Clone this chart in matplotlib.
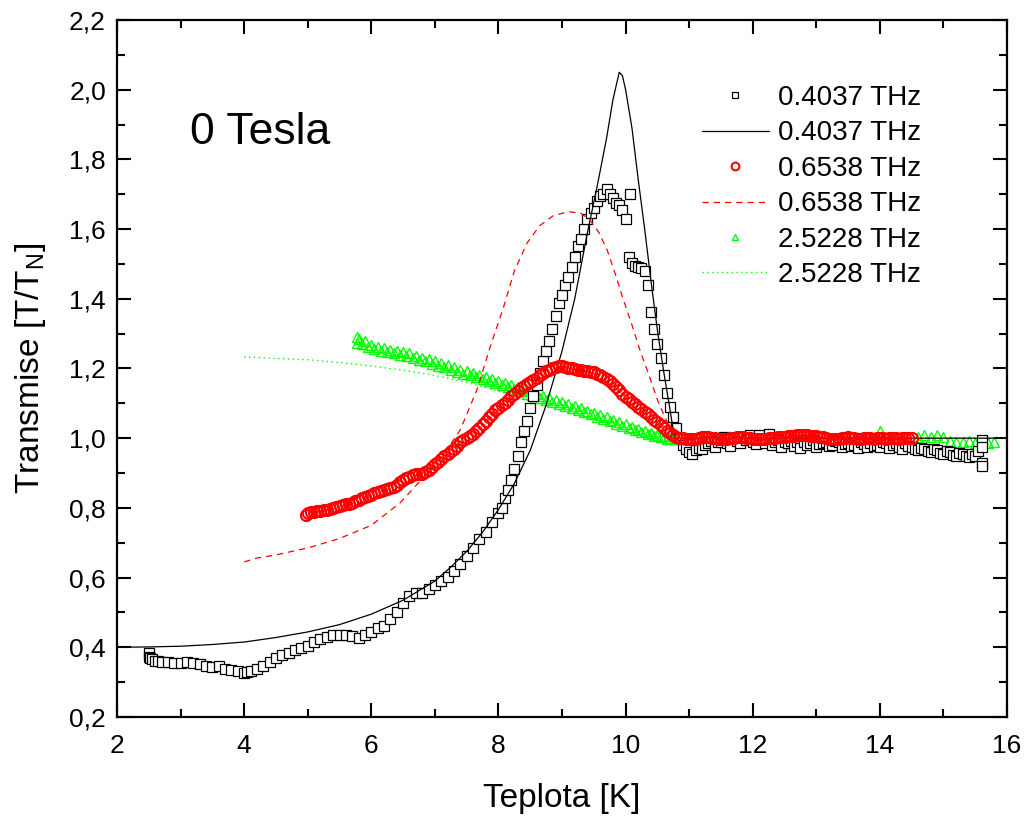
import matplotlib
matplotlib.use("Agg")
import matplotlib.pyplot as plt
from matplotlib.ticker import MultipleLocator, FuncFormatter

plt.rcParams['font.family'] = ['Liberation Sans', 'DejaVu Sans']

# 0.4037 THz - measured (squares)
blk_T = [2.50, 2.50, 2.52, 2.55, 2.60, 2.65, 2.70, 2.80, 2.90, 3.00, 3.10, 3.20, 3.30, 3.40,
         3.50, 3.60, 3.70, 3.80, 3.90, 4.00, 4.05, 4.10, 4.20, 4.30, 4.40, 4.50, 4.60, 4.70,
         4.80, 4.90, 5.00, 5.10, 5.20, 5.30, 5.40, 5.50, 5.60, 5.70, 5.80, 5.90, 6.00, 6.10,
         6.20, 6.30, 6.40, 6.50, 6.60, 6.70, 6.80, 6.90, 7.00, 7.10, 7.20, 7.30, 7.40, 7.50,
         7.60, 7.70, 7.80, 7.90, 8.00, 8.05, 8.10, 8.15, 8.20, 8.25, 8.30, 8.35, 8.40, 8.45,
         8.50, 8.55, 8.60, 8.65, 8.70, 8.75, 8.80, 8.85, 8.90, 8.95, 9.00, 9.05, 9.10, 9.15,
         9.20, 9.25, 9.30, 9.35, 9.40, 9.45, 9.50, 9.55, 9.60, 9.65, 9.70, 9.75, 9.80, 9.85,
         9.90, 9.95, 10.00, 10.07, 10.05, 10.10, 10.15, 10.20, 10.25, 10.30, 10.35, 10.40,
         10.45, 10.50, 10.55, 10.60, 10.65, 10.70, 10.75, 10.80, 10.85, 10.90, 10.95, 11.00,
         11.05, 11.10, 11.15, 11.20, 11.25, 11.30, 11.35, 11.40, 11.45, 11.50, 11.55, 11.60,
         11.65, 11.70, 11.75, 11.80, 11.85, 11.90, 11.95, 12.00, 12.05, 12.10, 12.15, 12.20,
         12.25, 12.30, 12.35, 12.40, 12.45, 12.50, 12.55, 12.60, 12.65, 12.70, 12.75, 12.80,
         12.85, 12.90, 12.95, 13.00, 13.05, 13.10, 13.15, 13.20, 13.25, 13.30, 13.35, 13.40,
         13.45, 13.50, 13.55, 13.60, 13.65, 13.70, 13.75, 13.80, 13.85, 13.90, 13.95, 14.00,
         14.05, 14.10, 14.15, 14.20, 14.25, 14.30, 14.35, 14.40, 14.45, 14.50, 14.55, 14.60,
         14.65, 14.70, 14.75, 14.80, 14.85, 14.90, 14.95, 15.00, 15.05, 15.10, 15.15, 15.20,
         15.25, 15.30, 15.35, 15.40, 15.45, 15.50, 15.55, 15.60, 15.60, 15.60, 15.60]
blk_R = [0.385, 0.372, 0.368, 0.365, 0.362, 0.360, 0.358, 0.357, 0.355, 0.356, 0.357, 0.355,
         0.352, 0.346, 0.343, 0.345, 0.339, 0.336, 0.332, 0.325, 0.330, 0.331, 0.338, 0.346,
         0.358, 0.368, 0.377, 0.385, 0.391, 0.399, 0.405, 0.414, 0.424, 0.430, 0.434, 0.436,
         0.434, 0.431, 0.428, 0.434, 0.445, 0.454, 0.461, 0.480, 0.502, 0.526, 0.548, 0.555,
         0.556, 0.566, 0.580, 0.590, 0.601, 0.620, 0.640, 0.661, 0.686, 0.710, 0.732, 0.760,
         0.785, 0.800, 0.828, 0.850, 0.880, 0.912, 0.950, 0.988, 1.020, 1.050, 1.088, 1.120,
         1.152, 1.188, 1.220, 1.250, 1.280, 1.312, 1.350, 1.388, 1.410, 1.440, 1.462, 1.490,
         1.520, 1.550, 1.572, 1.600, 1.630, 1.645, 1.660, 1.680, 1.695, 1.700, 1.715, 1.702,
         1.690, 1.676, 1.668, 1.654, 1.628, 1.702, 1.520, 1.502, 1.495, 1.490, 1.488, 1.480,
         1.440, 1.362, 1.312, 1.270, 1.230, 1.180, 1.130, 1.090, 1.060, 1.030, 1.000, 0.980,
         0.968, 0.960, 0.955, 0.965, 0.972, 0.970, 0.980, 0.985, 0.992, 0.975, 0.988, 0.990,
         1.002, 0.985,
         0.978, 1.000, 0.992, 0.985, 1.004, 0.995, 1.008, 0.990, 0.982, 1.010, 0.998, 0.985,
         1.012, 0.980, 0.990, 0.996, 0.975, 0.988, 0.985, 0.992, 0.978, 0.990, 0.972, 0.990,
         0.980, 0.985, 0.994, 0.975, 0.982, 0.985, 0.990, 0.978, 0.980, 0.992, 0.988, 0.975,
         0.984, 0.985, 0.978, 0.980, 0.972, 0.988, 0.982, 0.975, 0.985, 0.978, 0.980, 0.975,
         0.988, 0.985, 0.972, 0.980, 0.985, 0.975, 0.970, 0.985, 0.978, 0.975, 0.968, 0.965,
         0.972, 0.970, 0.962, 0.960, 0.968, 0.965, 0.958, 0.955, 0.962, 0.960, 0.952, 0.950,
         0.958, 0.955, 0.948, 0.945, 0.955, 0.950, 0.962, 0.930, 0.995, 0.975, 0.920]

# 0.4037 THz - fit (solid)
blk_fit_T = [2.0, 2.5, 3.0, 3.5, 4.0, 4.5, 5.0, 5.5, 6.0, 6.5, 7.0, 7.25, 7.5, 7.75, 8.0,
             8.25, 8.5, 8.75, 9.0, 9.2, 9.4, 9.55, 9.7, 9.8, 9.9, 9.95, 10.0, 10.1, 10.2,
             10.3, 10.4, 10.5, 10.6, 10.7, 10.77, 16.0]
blk_fit_R = [0.400, 0.401, 0.403, 0.408, 0.415, 0.428, 0.444, 0.465, 0.495, 0.535, 0.590,
             0.630, 0.675, 0.730, 0.795, 0.870, 0.965, 1.095, 1.250, 1.400, 1.590, 1.720,
             1.860, 1.970, 2.050, 2.040, 2.000, 1.890, 1.740, 1.600, 1.450, 1.310, 1.190,
             1.080, 1.000, 1.000]

# 0.6538 THz - measured (circles)
red_T = [4.98, 5.00, 5.05, 5.10, 5.15, 5.20, 5.25, 5.30, 5.35, 5.40,
         5.45, 5.50, 5.55, 5.60, 5.65, 5.70, 5.75, 5.80, 5.85, 5.90,
         5.95, 6.00, 6.05, 6.10, 6.15, 6.20, 6.25, 6.30, 6.35, 6.40,
         6.45, 6.50, 6.55, 6.60, 6.65, 6.70, 6.75, 6.80, 6.85, 6.90,
         6.95, 7.00, 7.05, 7.10, 7.15, 7.20, 7.25, 7.30, 7.35, 7.40,
         7.45, 7.50, 7.55, 7.60, 7.65, 7.70, 7.75, 7.80, 7.85, 7.90,
         7.95, 8.00, 8.05, 8.10, 8.15, 8.20, 8.25, 8.30, 8.35, 8.40,
         8.45, 8.50, 8.55, 8.60, 8.65, 8.70, 8.75, 8.80, 8.85, 8.90,
         8.95, 9.00, 9.05, 9.10, 9.15, 9.20, 9.25, 9.30, 9.35, 9.40,
         9.45, 9.50, 9.55, 9.60, 9.65, 9.70, 9.75, 9.80, 9.85, 9.90,
         9.95, 10.00, 10.05, 10.10, 10.15, 10.20, 10.25, 10.30, 10.35, 10.40,
         10.45, 10.50, 10.55, 10.60, 10.65, 10.70, 10.75, 10.80, 10.85, 10.90,
         10.95, 11.00, 11.05, 11.10, 11.15, 11.20, 11.25, 11.30, 11.35, 11.40,
         11.45, 11.50, 11.55, 11.60, 11.65, 11.70, 11.75, 11.80, 11.85, 11.90,
         11.95, 12.00, 12.05, 12.10, 12.15, 12.20, 12.25, 12.30, 12.35, 12.40,
         12.45, 12.50, 12.55, 12.60, 12.65, 12.70, 12.75, 12.80, 12.85, 12.90,
         12.95, 13.00, 13.05, 13.10, 13.15, 13.20, 13.25, 13.30, 13.35, 13.40,
         13.45, 13.50, 13.55, 13.60, 13.65, 13.70, 13.75, 13.80, 13.85, 13.90,
         13.95, 14.00, 14.05, 14.10, 14.15, 14.20, 14.25, 14.30, 14.35, 14.40,
         14.45, 14.50]
red_R = [0.780, 0.785, 0.787, 0.789, 0.790, 0.792, 0.793, 0.795, 0.798, 0.800,
         0.802, 0.805, 0.808, 0.810, 0.812, 0.815, 0.820, 0.824, 0.827, 0.830,
         0.834, 0.838, 0.842, 0.845, 0.848, 0.850, 0.853, 0.856, 0.861, 0.866,
         0.873, 0.880, 0.886, 0.890, 0.894, 0.896, 0.897, 0.897, 0.903, 0.910,
         0.918, 0.926, 0.933, 0.940, 0.948, 0.955, 0.963, 0.970, 0.978, 0.988,
         0.995, 1.000, 1.006, 1.012, 1.020, 1.030, 1.040, 1.050, 1.060, 1.070,
         1.080, 1.088, 1.095, 1.102, 1.110, 1.120, 1.128, 1.136, 1.143, 1.150,
         1.156, 1.162, 1.167, 1.173, 1.180, 1.186, 1.192, 1.197, 1.201, 1.205,
         1.206, 1.206, 1.204, 1.202, 1.200, 1.199, 1.197, 1.196, 1.194, 1.193,
         1.191, 1.189, 1.185, 1.181, 1.176, 1.170, 1.163, 1.155, 1.147, 1.138,
         1.128, 1.119, 1.111, 1.104, 1.097, 1.090, 1.083, 1.075, 1.068, 1.060,
         1.053, 1.046, 1.038, 1.030, 1.022, 1.015, 1.008, 1.003, 1.001, 1.000,
         0.999, 0.998, 0.998, 0.999, 1.001, 1.002, 1.003, 1.002, 1.001, 1.000,
         0.999, 0.998, 0.998, 0.999, 1.000, 1.001, 1.002, 1.003, 1.002, 1.001,
         1.000, 0.998, 0.997, 0.997, 0.998, 0.999, 1.000, 1.000, 1.001, 1.002,
         1.003, 1.004, 1.005, 1.006, 1.007, 1.008, 1.008, 1.009, 1.008, 1.007,
         1.006, 1.005, 1.003, 1.002, 1.000, 0.999, 0.998, 0.998, 0.999, 1.000,
         1.001, 1.002, 1.001, 1.000, 0.999, 0.999, 1.000, 1.001, 1.000, 0.999,
         1.000, 1.001, 1.000, 0.999, 1.000, 1.001, 1.000, 0.999, 1.000, 1.001,
         1.000, 1.000]

# 0.6538 THz - fit (dashed)
red_fit_T = [4.0, 4.2, 4.5, 5.0, 5.5, 6.0, 6.45, 6.97, 7.2, 7.4, 7.66, 7.87, 8.08, 8.25,
             8.45, 8.65, 8.86, 9.1, 9.3, 9.44, 9.58, 9.71, 9.84, 9.96, 10.1, 10.23, 10.37,
             10.5, 10.62, 10.73, 10.8, 14.5]
red_fit_R = [0.645, 0.656, 0.665, 0.685, 0.712, 0.750, 0.814, 0.917, 0.970, 1.024, 1.138,
             1.262, 1.376, 1.480, 1.560, 1.610, 1.638, 1.650, 1.645, 1.626, 1.590, 1.540,
             1.470, 1.400, 1.325, 1.250, 1.180, 1.110, 1.060, 1.015, 1.000, 1.000]

# 2.5228 THz - measured (triangles)
grn_T = [5.78, 5.78, 5.80, 5.85, 5.90, 5.95, 6.00, 6.05, 6.10, 6.15,
         6.20, 6.25, 6.30, 6.35, 6.40, 6.45, 6.50, 6.55, 6.60, 6.65,
         6.70, 6.75, 6.80, 6.85, 6.90, 6.95, 7.00, 7.05, 7.10, 7.15,
         7.20, 7.25, 7.30, 7.35, 7.40, 7.45, 7.50, 7.55, 7.60, 7.65,
         7.70, 7.75, 7.80, 7.85, 7.90, 7.95, 8.00, 8.05, 8.10, 8.15,
         8.20, 8.25, 8.30, 8.35, 8.40, 8.45, 8.50, 8.55, 8.60, 8.65,
         8.70, 8.75, 8.80, 8.85, 8.90, 8.95, 9.00, 9.05, 9.10, 9.15,
         9.20, 9.25, 9.30, 9.35, 9.40, 9.45, 9.50, 9.55, 9.60, 9.65,
         9.70, 9.75, 9.80, 9.85, 9.90, 9.95, 10.00, 10.05, 10.10, 10.15,
         10.20, 10.25, 10.30, 10.35, 10.40, 10.45, 10.50, 10.55, 10.60, 10.65,
         10.70, 10.75, 10.80, 10.90, 11.00, 11.20, 11.40, 11.60, 11.80, 12.00,
         12.20, 12.40, 12.60, 12.80, 13.00, 13.20, 13.40, 13.60, 13.80, 14.00,
         14.20, 14.40, 14.60, 14.70, 14.80, 14.90, 15.00, 15.10, 15.20, 15.30,
         15.40, 15.50, 15.60, 15.70, 15.80]
grn_R = [1.290, 1.272, 1.285, 1.270, 1.278, 1.262, 1.266, 1.256, 1.262, 1.250,
         1.258, 1.248, 1.254, 1.243, 1.250, 1.240, 1.247, 1.236, 1.243, 1.230,
         1.237, 1.225, 1.231, 1.220, 1.226, 1.214, 1.221, 1.208, 1.215, 1.203,
         1.209, 1.197, 1.203, 1.191, 1.197, 1.185, 1.192, 1.180, 1.186, 1.175,
         1.181, 1.170, 1.176, 1.164, 1.170, 1.158, 1.165, 1.152, 1.158, 1.146,
         1.152, 1.140, 1.146, 1.134, 1.140, 1.128, 1.134, 1.122, 1.128, 1.116,
         1.122, 1.110, 1.116, 1.104, 1.110, 1.099, 1.104, 1.092, 1.098, 1.086,
         1.092, 1.080, 1.086, 1.074, 1.079, 1.068, 1.073, 1.062, 1.066, 1.055,
         1.060, 1.049, 1.053, 1.042, 1.046, 1.036, 1.040, 1.030, 1.033, 1.024,
         1.027, 1.018, 1.021, 1.012, 1.015, 1.007, 1.010, 1.003, 1.005, 0.999,
         1.001, 0.997, 0.998, 0.995, 0.998, 0.996, 0.999, 0.995, 0.998, 0.996,
         0.999, 0.997, 0.995, 0.998, 0.996, 0.999, 0.997, 0.995, 0.998, 1.022,
         0.997, 0.995, 1.004, 1.008, 1.003, 1.009, 1.004, 0.992, 0.990, 0.988,
         0.991, 0.987, 0.990, 0.986, 0.988]

# 2.5228 THz - fit (dotted)
grn_fit_T = [4.0, 5.0, 5.5, 6.0, 6.5, 7.0, 7.5, 8.0, 8.5, 9.0, 9.5, 10.0, 10.5, 10.8, 16.0]
grn_fit_R = [1.233, 1.225, 1.217, 1.207, 1.195, 1.180, 1.160, 1.135, 1.105, 1.080, 1.055,
             1.030, 1.010, 1.000, 1.000]

fig = plt.figure(figsize=(10.3, 8.18), dpi=100)
ax = fig.add_axes([0.1136, 0.1235, 0.8641, 0.8521])

p_blk, = ax.plot(blk_T, blk_R, ls='none', marker='s', ms=6.8, mfc='white', mec='black', mew=0.9,
                 label='0.4037 THz', zorder=3)
l_blk, = ax.plot(blk_fit_T, blk_fit_R, color='black', lw=0.9, label='0.4037 THz', zorder=4)
p_grn, = ax.plot(grn_T, grn_R, ls='none', marker='^', ms=7, mfc='none', mec='#00ff00', mew=1.0,
                 label='2.5228 THz', zorder=2)
l_grn, = ax.plot(grn_fit_T, grn_fit_R, color='#00ff00', lw=1.0, ls=(0, (1, 2.5)),
                 label='2.5228 THz', zorder=2)
p_red, = ax.plot(red_T, red_R, ls='none', marker='o', ms=8, mfc='none', mec='red', mew=1.5,
                 label='0.6538 THz', zorder=5)
l_red, = ax.plot(red_fit_T, red_fit_R, color='red', lw=0.9, ls=(0, (5, 4)),
                 label='0.6538 THz', zorder=4)

ax.set_xlim(2, 16)
ax.set_ylim(0.2, 2.2)
ax.xaxis.set_major_locator(MultipleLocator(2))
ax.xaxis.set_minor_locator(MultipleLocator(1))
ax.yaxis.set_major_locator(MultipleLocator(0.2))
ax.yaxis.set_minor_locator(MultipleLocator(0.1))
ax.yaxis.set_major_formatter(FuncFormatter(lambda v, p: f"{v:.1f}".replace('.', ',')))
ax.tick_params(which='both', direction='in', top=True, right=True, labelsize=19, width=1.5)
ax.tick_params(which='major', length=10)
ax.tick_params(axis='x', which='major', pad=12)
ax.tick_params(axis='y', which='major', pad=8)
ax.tick_params(which='minor', length=6)
for s in ax.spines.values():
    s.set_linewidth(1.6)

ax.set_xlabel('Teplota [K]', fontsize=24, labelpad=18)
ax.set_ylabel(r'Transmise [T/T$_\mathregular{N}$]', fontsize=24, labelpad=15)

ax.text(3.15, 1.876, '0 Tesla', fontsize=32, ha='left', va='center')

ax.legend([p_blk, l_blk, p_red, l_red, p_grn, l_grn],
          ['0.4037 THz', '0.4037 THz', '0.6538 THz', '0.6538 THz', '2.5228 THz', '2.5228 THz'],
          loc='upper left', bbox_to_anchor=(702 / 1030, 1 - 85 / 818), bbox_transform=fig.transFigure,
          frameon=False, fontsize=20, handlelength=2.4, handletextpad=0.35, labelspacing=0.34,
          borderpad=0, borderaxespad=0, markerscale=0.7)

fig.savefig('out.png', dpi=100)
